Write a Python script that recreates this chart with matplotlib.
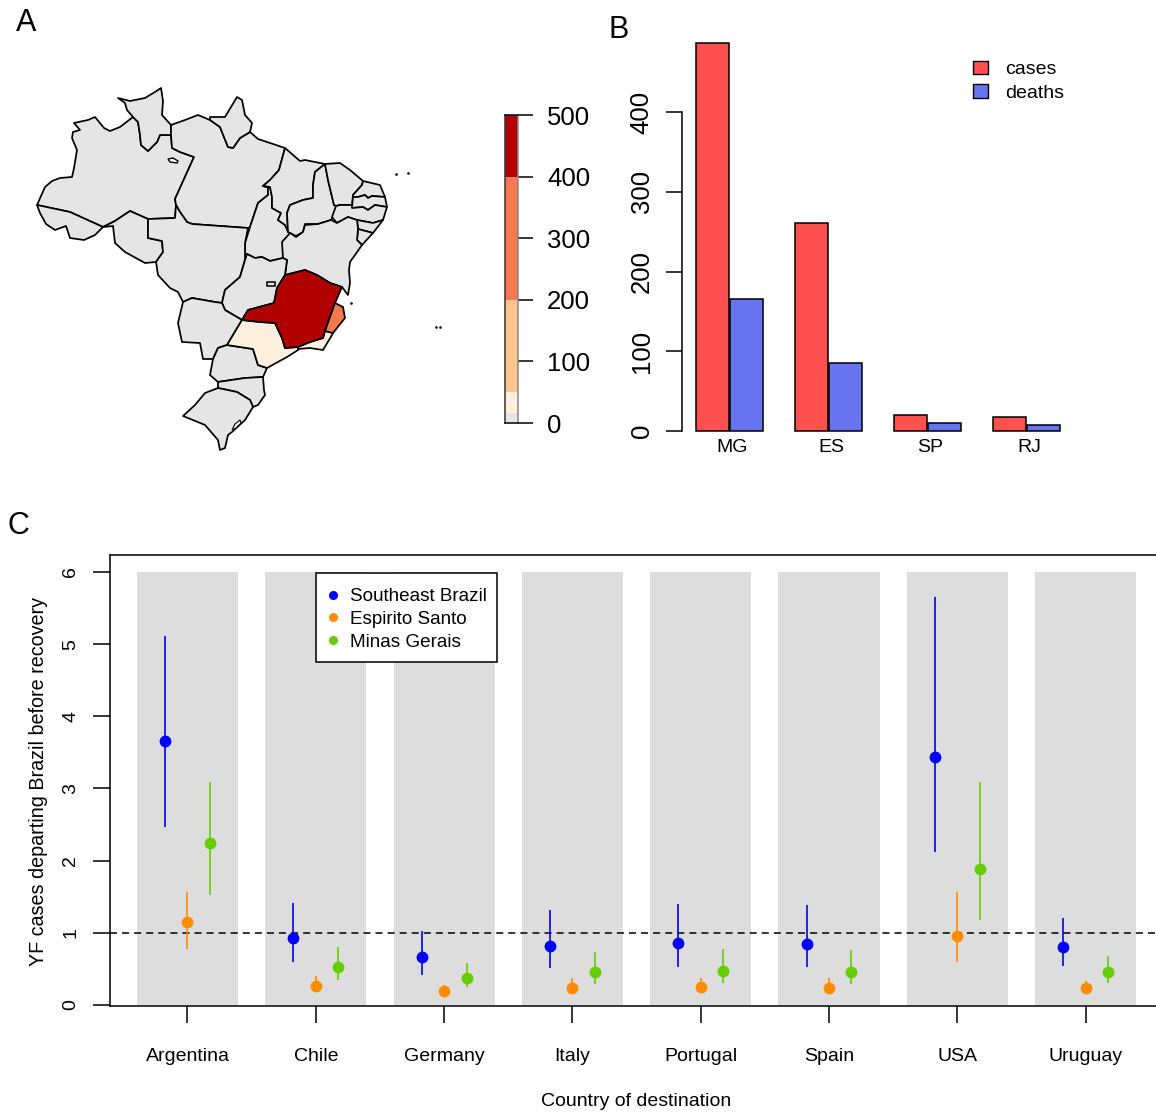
import matplotlib
matplotlib.use("Agg")
import matplotlib.pyplot as plt
import numpy as np
from matplotlib.lines import Line2D
from matplotlib.patches import Patch, Polygon, Rectangle

plt.rcParams['font.family'] = ['Liberation Sans', 'DejaVu Sans']

W, H = 1156, 1113

# State outlines (map units are picture pixels)
AM = [(37,205),(41,196),(45,187),(52,181),(60,178),(72,177),(74,168),(77,150),(72,138),(73,132),(80,130),(74,123),(88,120),(95,117),(104,128),(110,131),(120,127),(133,117),(138,122),(140,135),(141,145),(148,151),(157,142),(160,135),(171,135),(172,148),(180,152),(194,157),(175,199),(176,205),(175,218),(148,219),(130,211),(115,221),(103,227),(70,212)]
AC = [(37,205),(70,212),(103,227),(95,235),(84,240),(70,238),(66,226),(55,230),(46,224),(40,213)]
RO = [(103,227),(115,221),(130,211),(148,219),(148,238),(162,241),(163,252),(156,262),(145,263),(125,252),(115,243),(113,226)]
RR = [(118,98),(130,101),(145,98),(155,92),(161,88),(163,101),(162,115),(171,125),(171,135),(160,135),(157,142),(148,151),(141,145),(140,135),(138,122),(133,117),(127,110),(125,103)]
PA = [(171,135),(171,125),(185,120),(198,115),(210,120),(220,127),(228,147),(233,148),(240,138),(250,132),(258,139),(270,143),(285,148),(279,170),(270,180),(263,186),(268,187),(268,195),(258,203),(250,227),(248,228),(192,224),(187,222),(180,212),(176,205),(175,199),(194,157),(180,152),(172,148)]
AP = [(210,117),(225,117),(237,97),(242,100),(245,115),(252,123),(250,132),(240,138),(233,148),(228,147),(220,127),(210,120)]
TO = [(263,186),(268,187),(268,195),(258,203),(250,227),(245,243),(245,255),(247,254),(255,258),(262,257),(270,261),(283,258),(284,242),(290,233),(285,225),(278,220),(281,213),(272,208),(272,197),(270,187)]
MA = [(285,148),(300,161),(305,160),(325,164),(315,172),(313,185),(313,198),(303,200),(290,205),(287,213),(288,232),(285,225),(278,220),(281,213),(272,208),(272,197),(270,187),(263,186),(270,180),(279,170)]
PI = [(325,164),(328,180),(334,205),(336,206),(335,213),(331,220),(318,224),(305,224),(303,232),(296,236),(290,233),(288,232),(287,213),(290,205),(303,200),(313,198),(313,185),(315,172)]
CE = [(325,164),(340,163),(350,170),(363,181),(362,185),(353,195),(352,205),(340,205),(336,206),(334,205),(328,180)]
RN = [(363,181),(380,185),(385,197),(372,196),(368,198),(365,195),(358,197),(353,197),(353,195),(362,185)]
PB = [(353,197),(358,197),(365,195),(368,198),(372,196),(385,197),(387,207),(375,205),(368,210),(363,207),(352,208)]
PE = [(336,206),(340,205),(352,205),(352,208),(363,207),(368,210),(375,205),(387,207),(383,220),(373,223),(357,220),(348,217),(337,223),(332,217)]
AL = [(357,220),(373,223),(383,220),(373,233),(358,229)]
SE = [(358,229),(373,233),(362,245),(357,240)]
BA = [(282,242),(290,233),(296,237),(303,232),(305,225),(318,224),(331,220),(337,223),(348,217),(357,220),(358,229),(357,240),(362,245),(355,255),(350,262),(349,270),(350,283),(348,295),(342,287),(330,283),(317,275),(305,270),(285,275),(287,260),(283,258)]
MT = [(148,219),(175,218),(176,205),(180,212),(187,222),(192,224),(248,228),(245,243),(245,255),(245,260),(240,277),(225,290),(222,303),(215,302),(192,298),(183,302),(178,292),(170,288),(158,275),(156,262),(163,252),(162,241),(148,238)]
GO = [(247,254),(255,258),(262,257),(270,261),(283,258),(287,260),(285,275),(277,288),(274,303),(248,310),(242,320),(225,310),(222,303),(225,290),(240,277),(245,260)]
MS = [(183,302),(192,298),(215,302),(222,303),(225,310),(242,320),(227,345),(218,348),(213,359),(203,359),(200,343),(182,342),(178,323)]
PR = [(218,348),(227,345),(253,349),(258,365),(267,368),(263,377),(245,378),(218,382),(210,375),(213,359)]
SC = [(218,382),(245,378),(263,377),(264,390),(265,395),(258,405),(253,407),(250,400),(237,392),(218,388)]
RS = [(218,388),(237,392),(250,400),(253,407),(245,420),(232,432),(228,435),(225,448),(220,450),(218,440),(205,425),(183,416),(195,405),(205,393)]
MG = [(305,270),(317,275),(330,283),(342,287),(335,303),(325,330),(323,338),(310,342),(298,347),(285,348),(282,338),(275,323),(260,322),(242,320),(248,310),(274,303),(277,288),(285,275)]
ES = [(335,303),(343,307),(345,318),(333,333),(325,331)]
RJ = [(325,331),(333,333),(332,335),(323,350),(310,348),(298,349),(298,347),(310,342),(323,338)]
SP = [(242,320),(260,322),(275,323),(282,338),(285,348),(298,347),(298,350),(287,357),(267,368),(258,365),(253,349),(227,345)]
DF = [(267,282),(275,282),(275,286),(267,286)]
LAKE = [(168,159),(173,158),(178,161),(177,163),(170,162)]
LAGOON = [(240,420),(235,424),(232,430),(236,428),(241,423)]
ISLANDS = [(396,174),(408,173),(436,327),(440,327),(351,303)]

GREY_STATES = [AM, AC, RO, RR, PA, AP, TO, MA, PI, CE, RN, PB, PE, AL, SE, BA, MT, GO, MS, PR, SC, RS]

MAP_GREY = "#E5E5E5"
COL_PALE = "#FFF0DE"
COL_PEACH = "#FDC58F"
COL_ORANGE = "#F5784F"
COL_DARK = "#B20000"

# colour bar
bar_breaks = [0, 16, 50, 200, 400, 500]
bar_colors = [MAP_GREY, COL_PALE, COL_PEACH, COL_ORANGE, COL_DARK]
bar_ticks = [0, 100, 200, 300, 400, 500]

# panel B
states = ["MG", "ES", "SP", "RJ"]
cases = [487, 261, 20, 18]
deaths = [165, 85, 10, 7]

# panel C
countries = ["Argentina", "Chile", "Germany", "Italy", "Portugal", "Spain", "USA", "Uruguay"]
se_mid = [3.66, 0.93, 0.66, 0.82, 0.86, 0.85, 3.44, 0.80]
se_lo = [2.47, 0.60, 0.41, 0.51, 0.53, 0.53, 2.12, 0.54]
se_hi = [5.11, 1.41, 1.03, 1.32, 1.40, 1.39, 5.65, 1.20]
es_mid = [1.15, 0.27, 0.20, 0.24, 0.25, 0.24, 0.96, 0.24]
es_lo = [0.77, 0.18, 0.14, 0.17, 0.17, 0.17, 0.60, 0.17]
es_hi = [1.57, 0.40, 0.28, 0.37, 0.38, 0.38, 1.57, 0.33]
mg_mid = [2.25, 0.53, 0.38, 0.46, 0.47, 0.46, 1.89, 0.46]
mg_lo = [1.52, 0.35, 0.25, 0.29, 0.30, 0.29, 1.18, 0.31]
mg_hi = [3.09, 0.80, 0.58, 0.73, 0.77, 0.76, 3.09, 0.68]


def axes_px(left, top, right, bottom):
    # axes placed by picture pixels
    return fig.add_axes([left / W, 1 - bottom / H, (right - left) / W, (bottom - top) / H])


fig = plt.figure(figsize=(W / 100, H / 100), dpi=100)

fig.text(26 / W, 1 - 23 / H, "A", fontsize=22, ha="center", va="center")
fig.text(619 / W, 1 - 30 / H, "B", fontsize=22, ha="center", va="center")
fig.text(18 / W, 1 - 526 / H, "C", fontsize=22, ha="center", va="center")

# --- A: map
ax_map = axes_px(20, 80, 450, 460)
ax_map.set_xlim(20, 450)
ax_map.set_ylim(460, 80)
ax_map.axis("off")
for st in GREY_STATES:
    ax_map.add_patch(Polygon(st, closed=True, fc=MAP_GREY, ec="black", lw=1.25, joinstyle="round"))
ax_map.add_patch(Polygon(SP, closed=True, fc=COL_PALE, ec="black", lw=1.25))
ax_map.add_patch(Polygon(RJ, closed=True, fc=COL_PALE, ec="black", lw=1.25))
ax_map.add_patch(Polygon(MG, closed=True, fc=COL_DARK, ec="black", lw=1.25))
ax_map.add_patch(Polygon(ES, closed=True, fc=COL_ORANGE, ec="black", lw=1.25))
ax_map.add_patch(Polygon(DF, closed=True, fc=MAP_GREY, ec="black", lw=1.1))
ax_map.add_patch(Polygon(LAKE, closed=True, fc="white", ec="black", lw=1.0))
ax_map.add_patch(Polygon(LAGOON, closed=True, fc="white", ec="black", lw=0.8))
ax_map.plot([p[0] for p in ISLANDS], [p[1] for p in ISLANDS], ls="none", marker="s", ms=0.8, color="black")

# --- A: colour bar
ax_bar = axes_px(505, 115, 518, 423)
ax_bar.set_xlim(0, 1)
ax_bar.set_ylim(0, 500)
for i, col in enumerate(bar_colors):
    ax_bar.barh(bar_breaks[i], 1, height=bar_breaks[i + 1] - bar_breaks[i], align="edge", color=col, lw=0)
ax_bar.set_xticks([])
ax_bar.yaxis.tick_right()
ax_bar.set_yticks(bar_ticks)
ax_bar.tick_params(axis="y", length=11, width=1.1, labelsize=18.5, pad=10)
ax_bar.spines["left"].set_color("#333333")
ax_bar.spines["right"].set_color("#888888")
for s in ax_bar.spines.values():
    s.set_linewidth(1.1)

# --- B: bars
ax_b = axes_px(682, 40, 1100, 431)
pos = np.arange(len(states)) * 99.0
ax_b.set_xlim(-30.5, 387.5)
ax_b.set_ylim(0, 391 / 0.7975)
ax_b.bar(pos, cases, width=33, align="center", color="#FF5050", ec="black", lw=1.1, clip_on=False)
ax_b.bar(pos + 33.5, deaths, width=33, align="center", color="#6674F0", ec="black", lw=1.1, clip_on=False)
for s in ["top", "right", "bottom"]:
    ax_b.spines[s].set_visible(False)
ax_b.spines["left"].set_bounds(0, 400)
ax_b.spines["left"].set_linewidth(1.1)
ax_b.set_yticks([0, 100, 200, 300, 400])
ax_b.tick_params(axis="y", length=11.3, width=1.1, labelsize=18.5, pad=9)
for lab in ax_b.get_yticklabels():
    lab.set_rotation(90)
    lab.set_va("center")
ax_b.set_xticks(pos + 20)
ax_b.set_xticklabels(states)
ax_b.tick_params(axis="x", length=0, labelsize=14, pad=6)
ax_b.legend(handles=[Patch(fc="#FF5050", ec="black", lw=1.0, label="cases"),
                     Patch(fc="#6674F0", ec="black", lw=1.0, label="deaths")],
            loc="upper left", bbox_to_anchor=(973 / W, 1 - 61 / H), bbox_transform=fig.transFigure,
            frameon=False, fontsize=14, borderpad=0, borderaxespad=0,
            handlelength=0.78, handleheight=0.68, handletextpad=0.88, labelspacing=0.3)

# --- C: departures
ax_c = axes_px(110, 555, 1170, 1006)
x = np.arange(1, len(countries) + 1)
ax_c.set_xlim(1 - 77.5 / 128.3, 1 + 982.5 / 128.3)
ax_c.set_ylim(-1 / 72.17, 6 + 17 / 72.17)
for xi in x:
    ax_c.bar(xi, 6, width=0.788, bottom=0, color="#DDDDDD", lw=0, zorder=1)
ax_c.axhline(1, color="black", ls=(0, (4.6, 3.3)), lw=1.1, zorder=2)

series = [(se_mid, se_lo, se_hi, "#0000FF", -0.175, "Southeast Brazil"),
          (es_mid, es_lo, es_hi, "#FF8C00", 0.0, "Espirito Santo"),
          (mg_mid, mg_lo, mg_hi, "#66CD00", 0.175, "Minas Gerais")]
handles = []
for mid, lo, hi, col, off, name in series:
    ax_c.vlines(x + off, lo, hi, color=col, lw=1.2, zorder=3)
    ax_c.plot(x + off, mid, ls="none", marker="o", ms=8.5, color=col, mew=0, zorder=4)
    handles.append(Line2D([], [], ls="none", marker="o", ms=6.5, mew=0, color=col, label=name))

ax_c.set_yticks([0, 1, 2, 3, 4, 5, 6])
ax_c.set_xticks(x)
ax_c.set_xticklabels(countries)
ax_c.tick_params(axis="x", length=12, width=1.1, labelsize=14, pad=18.5)
ax_c.tick_params(axis="y", length=12, width=1.1, labelsize=14, pad=10)
for lab in ax_c.get_yticklabels():
    lab.set_rotation(90)
    lab.set_va("center")
for s in ax_c.spines.values():
    s.set_linewidth(1.1)
ax_c.set_xlabel("Country of destination", fontsize=14)
ax_c.xaxis.set_label_coords((636 - 110) / 1060, -(1102 - 1006) / 451, transform=ax_c.transAxes)
ax_c.xaxis.label.set_va("center")
ax_c.set_ylabel("YF cases departing Brazil before recovery", fontsize=14.2)
ax_c.yaxis.set_label_coords(-(110 - 38) / 1060, (1006 - 781) / 451, transform=ax_c.transAxes)
ax_c.yaxis.label.set_va("center")

# legend frame is wider in y than in x, so it is drawn apart from the entries
ax_c.add_patch(Rectangle((316 / W, 1 - 662 / H), 181 / W, 89 / H, transform=fig.transFigure,
                         fc="white", ec="black", lw=1.1, zorder=9, clip_on=False))
leg = ax_c.legend(handles=handles, loc="upper left", bbox_to_anchor=(327 / W, 1 - 588 / H),
                  bbox_transform=fig.transFigure, fontsize=13.6, frameon=False,
                  borderaxespad=0, borderpad=0, handletextpad=0.6,
                  labelspacing=0.29, handlelength=0.6)
leg.set_zorder(10)

fig.savefig("out.png", dpi=100)
